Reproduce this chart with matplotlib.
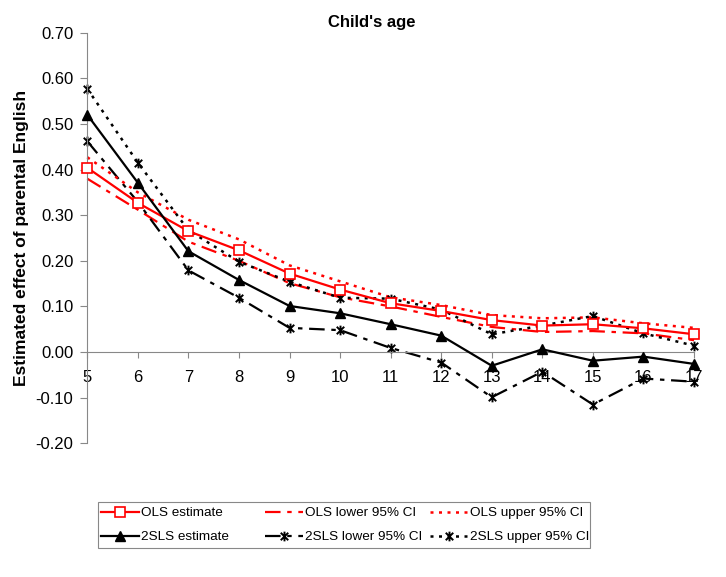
import matplotlib
matplotlib.use('Agg')
import matplotlib.pyplot as plt
from matplotlib.path import Path
from matplotlib.patches import Rectangle

plt.rcParams['font.family'] = ['Liberation Sans', 'DejaVu Sans']

ages = [5, 6, 7, 8, 9, 10, 11, 12, 13, 14, 15, 16, 17]

ols_est = [0.404, 0.327, 0.265, 0.223, 0.172, 0.137, 0.107, 0.090, 0.070, 0.058, 0.061, 0.052, 0.039]
ols_lo = [0.380, 0.312, 0.242, 0.200, 0.151, 0.120, 0.100, 0.077, 0.055, 0.044, 0.046, 0.041, 0.026]
ols_hi = [0.427, 0.350, 0.290, 0.247, 0.190, 0.155, 0.120, 0.103, 0.081, 0.074, 0.076, 0.063, 0.053]

tsls_est = [0.520, 0.371, 0.221, 0.158, 0.101, 0.085, 0.061, 0.036, -0.030, 0.006, -0.019, -0.010, -0.026]
tsls_lo = [0.462, 0.329, 0.179, 0.119, 0.053, 0.048, 0.009, -0.023, -0.099, -0.043, -0.115, -0.058, -0.065]
tsls_hi = [0.577, 0.415, 0.267, 0.198, 0.154, 0.119, 0.117, 0.093, 0.039, 0.058, 0.079, 0.041, 0.014]

y_ticks = [0.70, 0.60, 0.50, 0.40, 0.30, 0.20, 0.10, 0.00, -0.10, -0.20]

W, H = 726, 577

# Excel-style star: an x with a vertical bar through it
star = Path([(-1, -1), (1, 1), (-1, 1), (1, -1), (0, -1.3), (0, 1.3)],
            [Path.MOVETO, Path.LINETO, Path.MOVETO, Path.LINETO, Path.MOVETO, Path.LINETO])

fig = plt.figure(figsize=(W / 100, H / 100), dpi=100)
ax = fig.add_axes([87.3 / W, 1 - 443.3 / H, 606.7 / W, 410.6 / H])

l1, = ax.plot(ages, ols_est, color='#ff0000', lw=1.6, marker='s', ms=7, mfc='white', mec='#ff0000', mew=1.2,
              label='OLS estimate', clip_on=False, zorder=4)
l2, = ax.plot(ages, tsls_est, color='black', lw=1.6, marker='^', ms=7, label='2SLS estimate',
              clip_on=False, zorder=4)
l3, = ax.plot(ages, ols_lo, color='#ff0000', lw=1.6, dashes=(7, 3, 2, 3), label='OLS lower 95% CI',
              clip_on=False)
l4, = ax.plot(ages, tsls_lo, color='black', lw=1.6, dashes=(7, 3, 2, 3), marker=star, ms=7, mew=1.4,
              label='2SLS lower 95% CI', clip_on=False)
l5, = ax.plot(ages, ols_hi, color='#ff0000', lw=1.8, dashes=(1.2, 2.2), label='OLS upper 95% CI',
              clip_on=False)
l6, = ax.plot(ages, tsls_hi, color='black', lw=1.8, dashes=(1.2, 2.2), marker=star, ms=7, mew=1.4,
              label='2SLS upper 95% CI', clip_on=False)

ax.set_xlim(5, 17)
ax.set_ylim(-0.20, 0.70)
ax.set_xticks(ages)
ax.set_xticklabels([str(a) for a in ages])
ax.set_yticks(y_ticks)
ax.set_yticklabels(['%.2f' % v for v in y_ticks])

for s in ['top', 'right']:
    ax.spines[s].set_visible(False)
ax.spines['bottom'].set_position(('data', 0))
ax.spines['bottom'].set_color('#888888')
ax.spines['left'].set_color('#888888')
ax.tick_params(axis='y', direction='out', length=5, color='#888888', labelsize=12, pad=5)
ax.tick_params(axis='x', direction='out', length=4, color='#888888', labelsize=12, pad=9)

fig.text(372 / W, 1 - 22 / H, "Child's age", fontsize=12, fontweight='bold', ha='center', va='center')
ax.set_ylabel('Estimated effect of parental English', fontsize=12.5, fontweight='bold')
ax.yaxis.set_label_coords(-0.096, 0.5)

# legend: three equal-width columns in one frame
fig.patches.append(Rectangle((98.3 / W, 1 - 547.7 / H), 491.7 / W, 46 / H, transform=fig.transFigure,
                             fill=False, edgecolor='#888888', lw=0.8))
col_x = [101, 265, 430]
for x0, hs in zip(col_x, [(l1, l2), (l3, l4), (l5, l6)]):
    fig.legend(handles=list(hs), loc='upper left', bbox_to_anchor=(x0 / W, 1 - 507 / H),
               fontsize=9.7, frameon=False, handlelength=2.8, handletextpad=0.15,
               borderpad=0, borderaxespad=0, labelspacing=0.85)

fig.savefig('out.png', dpi=100)
